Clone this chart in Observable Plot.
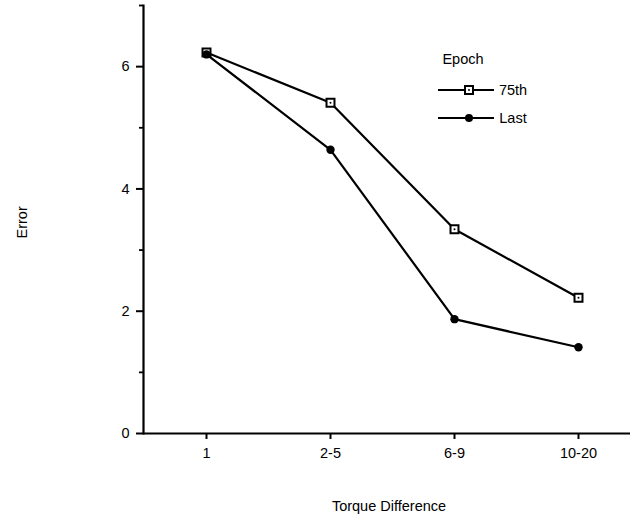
<!DOCTYPE html>
<html>
<head>
<meta charset="utf-8">
<script src="https://cdn.jsdelivr.net/npm/d3@7"></script>
<script src="https://cdn.jsdelivr.net/npm/@observablehq/plot@0.6"></script>
<style>
  html, body { margin: 0; padding: 0; background: #fff; }
  #chart { width: 633px; height: 522px; }
</style>
</head>
<body>
<div id="chart"></div>
<script>
const categories = ["1", "2-5", "6-9", "10-20"];
const series = ["75th", "Last"];
const values75th = [6.23, 5.41, 3.34, 2.22];
const valuesLast = [6.2, 4.64, 1.87, 1.41];
const yMajorTicks = [0, 2, 4, 6];
const yMinorTicks = [1, 3, 5, 7];
const xLabel = "Torque Difference";
const yLabel = "Error";
const legendTitle = "Epoch";

const d75 = categories.map((c, i) => ({t: c, v: values75th[i], s: series[0]}));
const dLast = categories.map((c, i) => ({t: c, v: valuesLast[i], s: series[1]}));
const all = d75.concat(dLast);

const font = "'Liberation Sans', Arial, Helvetica, sans-serif";
const fs = 14.5;

function legend() {
  const g = d3.create("svg:g")
    .attr("font-family", font)
    .attr("font-size", fs)
    .attr("fill", "black");
  const x0 = 438, x1 = 494, xm = 469, xt = 513;
  g.append("text").attr("x", 463).attr("y", 59).attr("dy", "0.35em").text(legendTitle);
  const rows = [90, 118];
  series.forEach((s, i) => {
    const y = rows[i];
    g.append("line").attr("x1", x0).attr("x2", x1).attr("y1", y).attr("y2", y)
      .attr("stroke", "black").attr("stroke-width", 2);
    if (i === 0) {
      g.append("rect").attr("x", xm - 4).attr("y", y - 4).attr("width", 8).attr("height", 8)
        .attr("fill", "white").attr("stroke", "black").attr("stroke-width", 2);
      g.append("circle").attr("cx", xm).attr("cy", y).attr("r", 1).attr("fill", "black");
    } else {
      g.append("circle").attr("cx", xm).attr("cy", y).attr("r", 4).attr("fill", "black");
    }
    g.append("text").attr("x", xt).attr("y", y).attr("dy", "0.35em").text(s);
  });
  return g.node();
}

const chart = Plot.plot({
  width: 633,
  height: 522,
  marginLeft: 143,
  marginRight: 3,
  marginTop: 5,
  marginBottom: 89,
  style: {fontFamily: font, fontSize: fs + "px", color: "black", background: "white"},
  x: {type: "point", domain: categories, padding: 0, insetLeft: 62, insetRight: 52},
  y: {domain: [0, 7]},
  marks: [
    Plot.ruleY([0], {stroke: "black", strokeWidth: 2.2}),
    Plot.frame({anchor: "left", stroke: "black", strokeWidth: 2.2}),
    Plot.axisY(yMajorTicks, {tickSize: 7, tickPadding: 7, strokeWidth: 2, fontSize: fs, tickFormat: d => String(d), label: null}),
    Plot.axisY(yMinorTicks, {tickSize: 4, tickFormat: () => "", strokeWidth: 1.8, label: null}),
    Plot.axisX({tickSize: 6, tickPadding: 8, strokeWidth: 2, fontSize: fs, label: null}),
    Plot.line(all, {x: "t", y: "v", z: "s", stroke: "black", strokeWidth: 2.2}),
    Plot.dot(d75, {x: "t", y: "v", symbol: "square", r: 4.5, fill: "white", stroke: "black", strokeWidth: 2}),
    Plot.dot(d75, {x: "t", y: "v", r: 1, fill: "black"}),
    Plot.dot(dLast, {x: "t", y: "v", r: 4.2, fill: "black"}),
    Plot.text([yLabel], {frameAnchor: "left", dx: -121, dy: 19, rotate: -90, fontSize: fs}),
    Plot.text([xLabel], {frameAnchor: "bottom", dx: 2, dy: 77, fontSize: fs}),
    legend
  ]
});
document.getElementById("chart").appendChild(chart);
</script>
</body>
</html>
